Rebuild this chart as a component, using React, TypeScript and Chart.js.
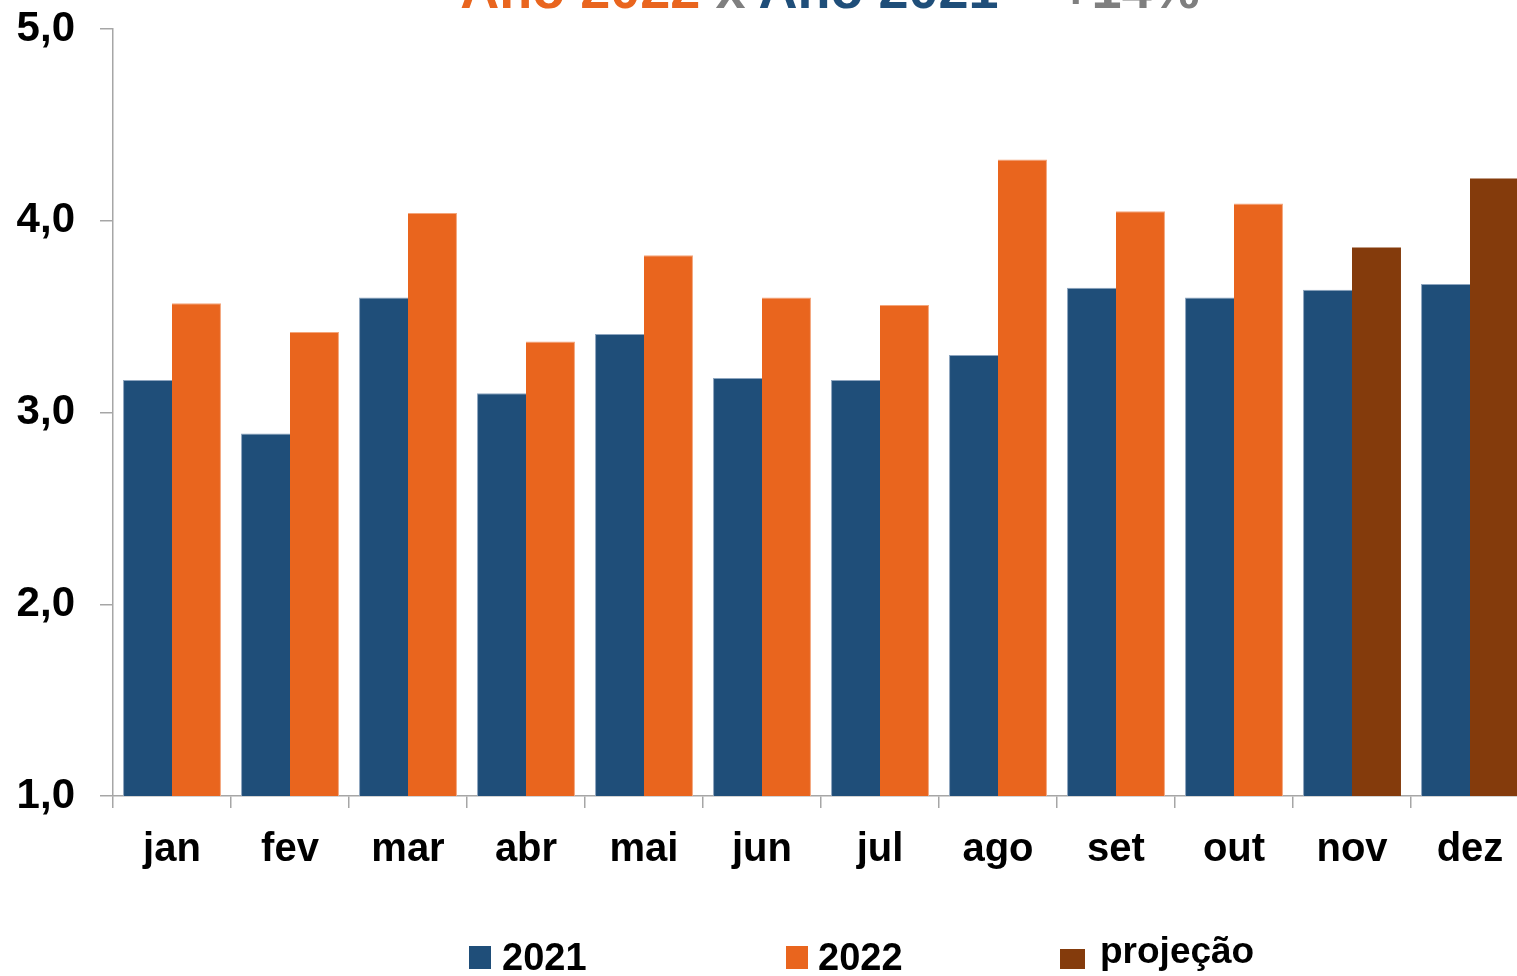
import React, { useEffect, useRef } from "react";
import { Chart, registerables } from "chart.js";

Chart.register(...registerables);

const months = ["jan", "fev", "mar", "abr", "mai", "jun", "jul", "ago", "set", "out", "nov", "dez"];
const values2021 = [3.17, 2.89, 3.6, 3.1, 3.41, 3.18, 3.17, 3.3, 3.65, 3.6, 3.64, 3.67];
const values2022 = [3.57, 3.42, 4.04, 3.37, 3.82, 3.6, 3.56, 4.32, 4.05, 4.09, null, null];
const valuesProjecao = [null, null, null, null, null, null, null, null, null, null, 3.86, 4.22];
const yTickValues = [1, 2, 3, 4, 5];

const BLUE = "#1F4E79";
const ORANGE = "#E9651E";
const BROWN = "#843B0C";
const GRAY = "#7F7F7F";
const AXIS = "#A6A6A6";
const FONT = "'Liberation Sans', Arial, sans-serif";

const titleParts = [
  { text: "Ano 2022", color: ORANGE },
  { text: " x ", color: GRAY },
  { text: "Ano 2021", color: BLUE },
  { text: " = +14%", color: GRAY },
];

const legendItems = [
  { label: "2021", color: BLUE },
  { label: "2022", color: ORANGE },
  { label: "projeção", color: BROWN },
];

export default function App() {
  const canvasRef = useRef<HTMLCanvasElement | null>(null);

  useEffect(() => {
    const canvas = canvasRef.current;
    if (!canvas) return;
    const chart = new Chart(canvas, {
      type: "bar",
      data: {
        labels: months,
        datasets: [
          {
            label: "2021",
            data: values2021,
            backgroundColor: BLUE,
            borderColor: "#8DA5BF",
            borderWidth: { top: 1, left: 1, right: 0, bottom: 0 },
            borderSkipped: false,
            stack: "a",
            categoryPercentage: 0.83,
            barPercentage: 1,
          },
          {
            label: "2022",
            data: values2022,
            backgroundColor: ORANGE,
            borderColor: "#F4A57A",
            borderWidth: { top: 1, left: 0, right: 1, bottom: 0 },
            borderSkipped: false,
            stack: "b",
            categoryPercentage: 0.83,
            barPercentage: 1,
          },
          {
            label: "projeção",
            data: valuesProjecao,
            backgroundColor: BROWN,
            borderWidth: 0,
            stack: "b",
            categoryPercentage: 0.83,
            barPercentage: 1,
          },
        ],
      },
      options: {
        responsive: false,
        animation: false,
        devicePixelRatio: 1,
        layout: { padding: { top: 29, left: 0, right: 0, bottom: 0 } },
        plugins: {
          legend: { display: false },
          title: { display: false },
          tooltip: { enabled: false },
        },
        scales: {
          x: {
            stacked: true,
            offset: true,
            grid: {
              offset: true,
              drawOnChartArea: false,
              drawTicks: true,
              tickLength: 12,
              color: AXIS,
              lineWidth: 1.5,
            },
            border: { display: true, color: AXIS, width: 1.5 },
            ticks: {
              color: "#000",
              font: { family: FONT, size: 40, weight: "bold" },
              padding: 18,
              maxRotation: 0,
              autoSkip: false,
            },
            afterFit: (scale: any) => {
              scale.height = 180;
            },
          },
          y: {
            stacked: true,
            min: yTickValues[0],
            max: yTickValues[yTickValues.length - 1],
            afterBuildTicks: (scale: any) => {
              scale.ticks = yTickValues.map((v) => ({ value: v }));
            },
            grid: {
              drawOnChartArea: false,
              drawTicks: true,
              tickLength: 13,
              color: AXIS,
              lineWidth: 1.5,
            },
            border: { display: true, color: AXIS, width: 1.5 },
            ticks: {
              color: "#000",
              font: { family: FONT, size: 42, weight: "bold" },
              padding: 25,
              callback: (v: any) => Number(v).toFixed(1).replace(".", ","),
            },
            afterFit: (scale: any) => {
              scale.width = 113;
              scale.paddingTop = 0;
              scale.paddingBottom = 0;
            },
          },
        },
      },
    });
    return () => chart.destroy();
  }, []);

  const legendPos = [
    { box: { left: 469, top: 946, width: 22, height: 23 }, text: { left: 502, top: 938, size: 38 } },
    { box: { left: 786, top: 946, width: 22, height: 23 }, text: { left: 818, top: 938, size: 38 } },
    { box: { left: 1060, top: 949, width: 25, height: 20 }, text: { left: 1100, top: 932, size: 37 } },
  ];

  return (
    <div
      style={{
        position: "fixed",
        left: 0,
        top: 0,
        width: 1517,
        height: 976,
        overflow: "hidden",
        background: "#fff",
      }}
    >
      <canvas
        ref={canvasRef}
        width={1529}
        height={976}
        style={{ position: "absolute", left: 0, top: 0, width: 1529, height: 976, display: "block" }}
      />
      <div
        style={{
          position: "absolute",
          left: 0,
          top: -38,
          width: 1660,
          textAlign: "center",
          fontFamily: FONT,
          fontWeight: "bold",
          fontSize: 54,
          lineHeight: "54px",
          whiteSpace: "pre",
        }}
      >
        {titleParts.map((p, i) => (
          <span key={i} style={{ color: p.color }}>
            {p.text}
          </span>
        ))}
      </div>
      {legendItems.map((item, i) => {
        const pos = legendPos[i];
        return (
          <React.Fragment key={item.label}>
            <div
              style={{
                position: "absolute",
                left: pos.box.left,
                top: pos.box.top,
                width: pos.box.width,
                height: pos.box.height,
                background: item.color,
              }}
            />
            <div
              style={{
                position: "absolute",
                left: pos.text.left,
                top: pos.text.top,
                fontFamily: FONT,
                fontWeight: "bold",
                fontSize: pos.text.size,
                lineHeight: `${pos.text.size}px`,
                color: "#000",
                whiteSpace: "nowrap",
              }}
            >
              {item.label}
            </div>
          </React.Fragment>
        );
      })}
    </div>
  );
}
